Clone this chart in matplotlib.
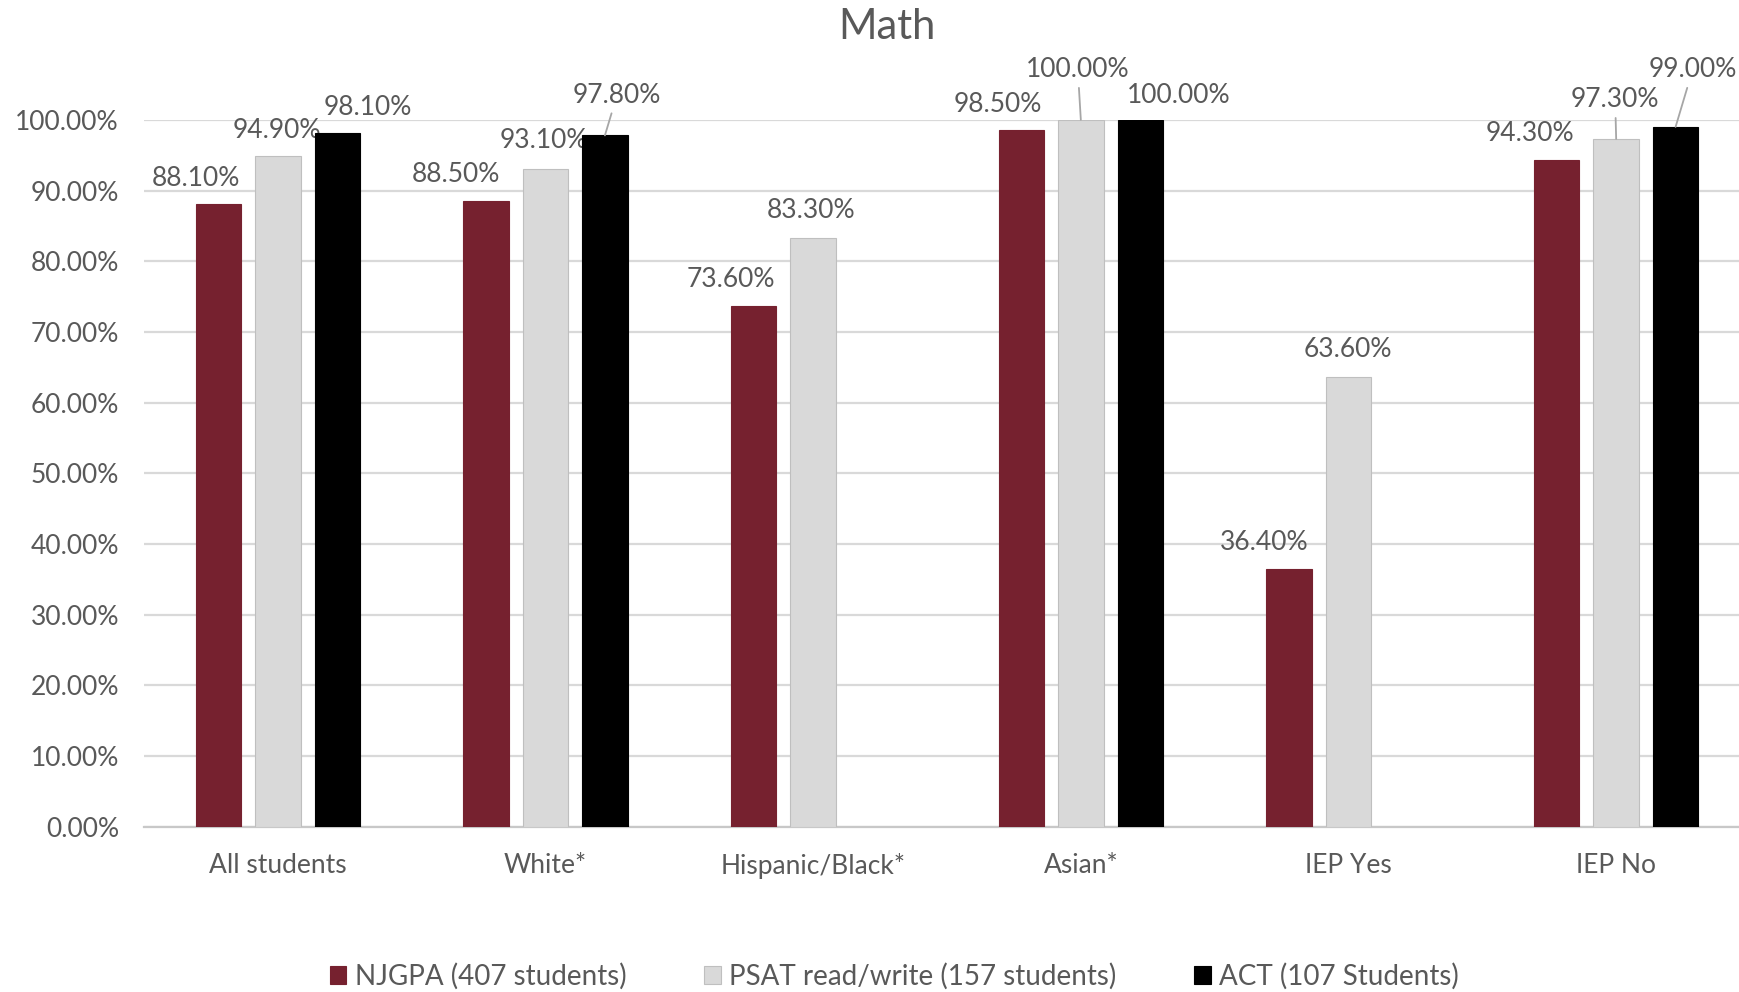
import numpy as np
import matplotlib
matplotlib.use("Agg")
import matplotlib.pyplot as plt

categories = ["All students", "White*", "Hispanic/Black*", "Asian*", "IEP Yes", "IEP No"]
njgpa = [88.1, 88.5, 73.6, 98.5, 36.4, 94.3]
psat = [94.9, 93.1, 83.3, 100.0, 63.6, 97.3]
act = [98.1, 97.8, np.nan, 100.0, np.nan, 99.0]
series_names = ["NJGPA (407 students)", "PSAT read/write (157 students)", "ACT (107 Students)"]

# label offsets (pixels, from top-centre of bar) and whether a leader line is drawn
nj_off = [(-22, 25), (-30, 27), (-23, 27), (-24, 26), (-25, 27), (-27, 27)]
psat_off = [(-1, 25), (-2, 28), (-2, 27), (-3, 50), (-1, 28), (-1, 39)]
act_off = [(31, 26), (12, 40), None, (38, 24), None, (17, 57)]
psat_lead = [False, False, False, True, False, True]
act_lead = [False, True, False, False, False, True]

plt.rcParams["font.family"] = ["Lato", "DejaVu Sans"]
txt = "#595959"
colors = ["#76212f", "#d9d9d9", "#000000"]

fig = plt.figure(figsize=(17.4, 9.92), dpi=100)
ax = fig.add_axes([144 / 1740, 0.1666, (1750 - 144) / 1740, 0.8792 - 0.1666])

x = np.arange(len(categories))
w = 0.17
step = 0.222
data = [njgpa, psat, act]
offs = [nj_off, psat_off, act_off]
leads = [[False] * 6, psat_lead, act_lead]
for i, (vals, col) in enumerate(zip(data, colors)):
    v = np.array(vals) / 100
    ec = "#bfbfbf" if i == 1 else col
    ax.bar(x + (i - 1) * step, v, width=w, color=col, edgecolor=ec, linewidth=0.8,
           label=series_names[i], zorder=3)
    for j, val in enumerate(v):
        if np.isnan(val):
            continue
        dx, dy = offs[i][j]
        kw = {}
        if leads[i][j]:
            kw["arrowprops"] = dict(arrowstyle="-", color="#a6a6a6", lw=1.3,
                                    shrinkA=2, shrinkB=0)
        ax.annotate(f"{val * 100:.2f}%", xy=(x[j] + (i - 1) * step, val),
                    xytext=(dx, dy), textcoords="offset pixels",
                    ha="center", va="center", fontsize=19, color=txt,
                    annotation_clip=False, **kw)

ax.set_xlim(-0.5, len(categories) - 0.5)
ax.set_ylim(0, 1.0)
ax.set_yticks(np.arange(0, 1.01, 0.1))
ax.set_yticklabels([f"{t * 100:.2f}%" for t in np.arange(0, 1.01, 0.1)])
ax.set_xticks(x)
ax.set_xticklabels(categories)
ax.tick_params(axis="y", length=0, pad=18, labelsize=19, labelcolor=txt)
ax.tick_params(axis="x", length=0, pad=19, labelsize=19, labelcolor=txt)
ax.grid(axis="y", color="#d9d9d9", lw=1.6, zorder=0)
ax.set_axisbelow(True)
for s in ["top", "right", "left"]:
    ax.spines[s].set_visible(False)
ax.spines["bottom"].set_color("#c8c8c8")
ax.spines["bottom"].set_linewidth(1.6)

fig.text(0.51, 1 - 27 / 992, "Math", ha="center", va="center", fontsize=30, color=txt)

fig.legend(loc="center", bbox_to_anchor=(0.514, 0.016), ncol=3, frameon=False,
           fontsize=20, labelcolor=txt, handlelength=0.6, handleheight=0.6,
           handletextpad=0.3, columnspacing=2.8)

fig.savefig("out.png", dpi=100)
